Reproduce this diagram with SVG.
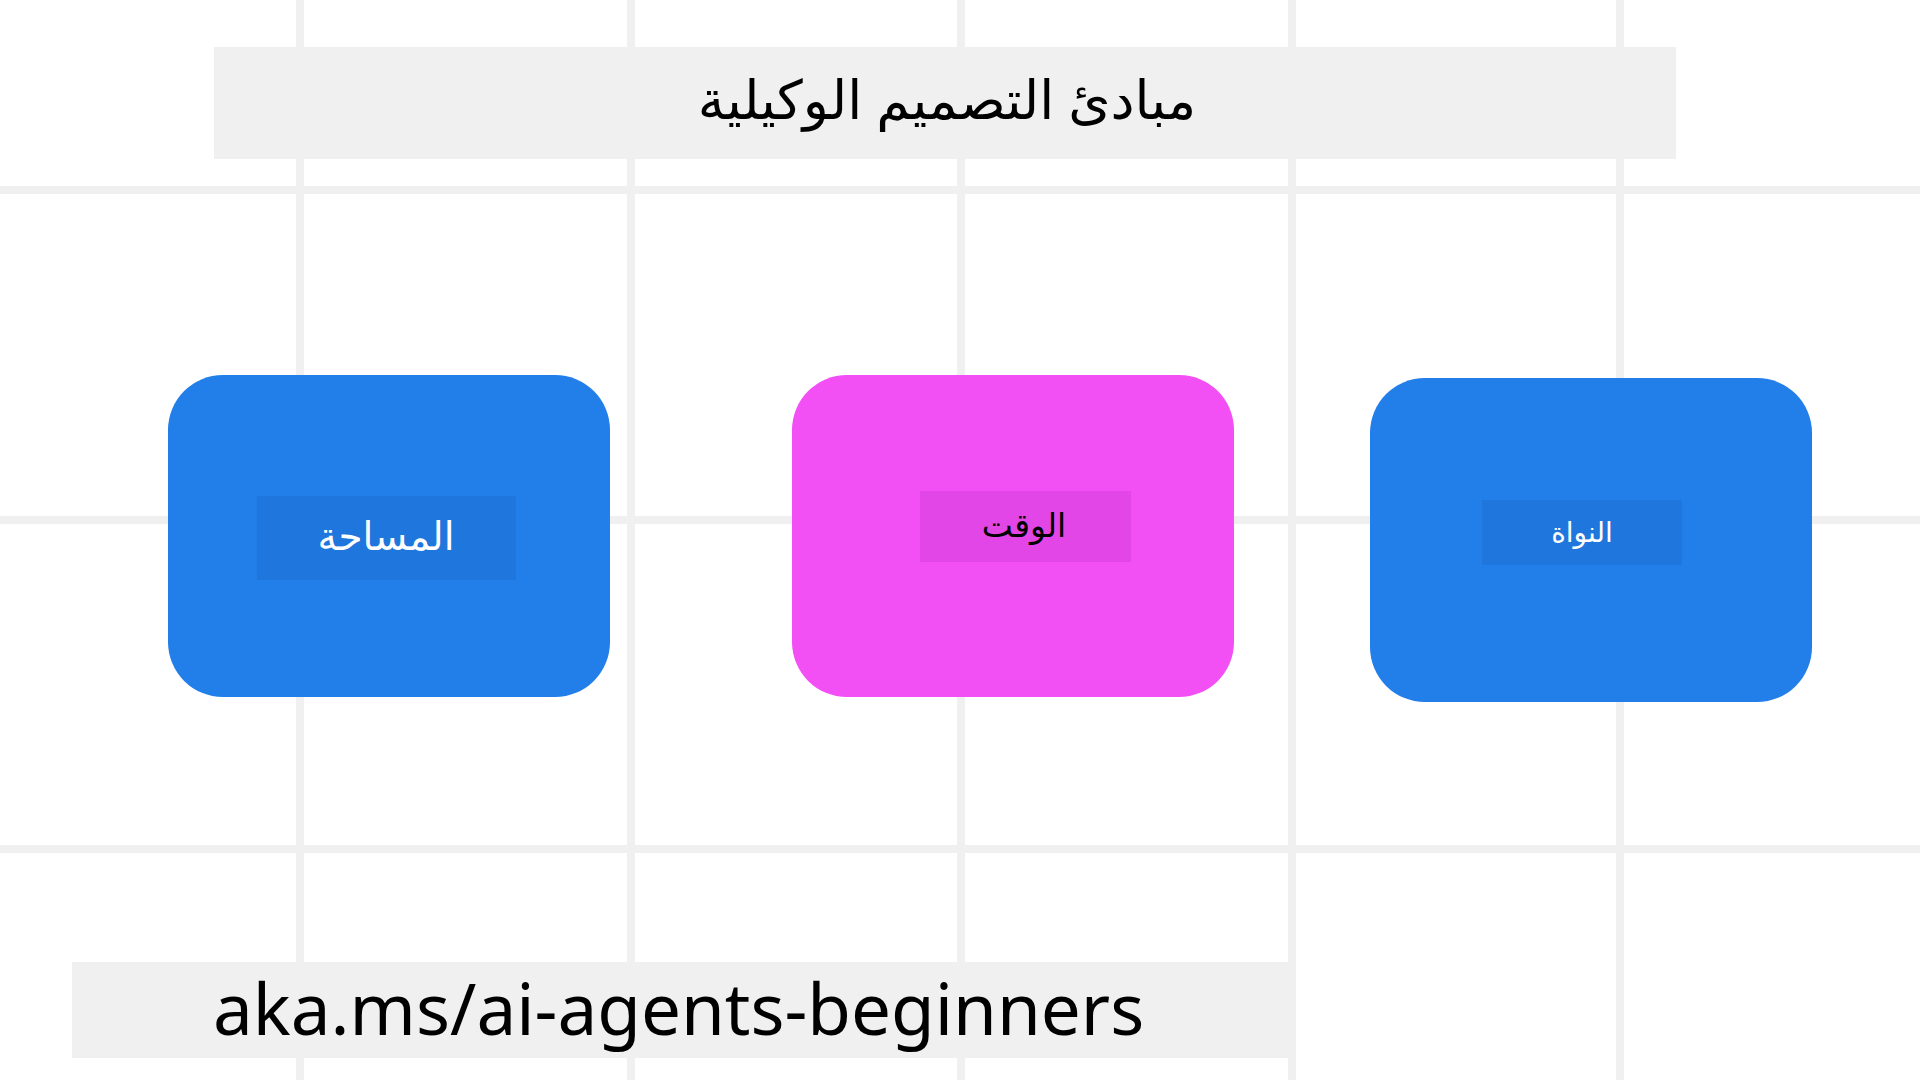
<svg xmlns="http://www.w3.org/2000/svg" width="1920" height="1080" viewBox="0 0 1920 1080">
<style>
.grid line{stroke:#f0f0f0;stroke-width:8}
.band{fill:#f0f0f0}
.blue{fill:#227ee8}
.pink{fill:#f250f5}
.lblBlue{fill:#1f76dd}
.lblPink{fill:#e246e7}
.ar{font-family:"Noto Sans","DejaVu Sans",sans-serif;text-anchor:middle}
</style>
<rect width="1920" height="1080" fill="#ffffff"/>
<g class="grid">
<line x1="300" y1="0" x2="300" y2="1080"/>
<line x1="631" y1="0" x2="631" y2="1080"/>
<line x1="961" y1="0" x2="961" y2="1080"/>
<line x1="1292" y1="0" x2="1292" y2="1080"/>
<line x1="1620" y1="0" x2="1620" y2="1080"/>
<line x1="0" y1="190" x2="1920" y2="190"/>
<line x1="0" y1="520" x2="1920" y2="520"/>
<line x1="0" y1="849" x2="1920" y2="849"/>
</g>
<g id="title">
<rect class="band" x="214" y="47" width="1462" height="112"/>
<text class="ar" x="947" y="119" font-size="54" fill="#000000">مبادئ التصميم الوكيلية</text>
</g>
<g id="connectors"></g>
<g id="node-space">
<rect class="blue" x="168" y="375" width="442" height="322" rx="55" ry="55"/>
<rect class="lblBlue" x="257" y="496" width="259" height="84"/>
<text class="ar" x="386" y="550" font-size="39" fill="#ffffff">المساحة</text>
</g>
<g id="node-time">
<rect class="pink" x="792" y="375" width="442" height="322" rx="55" ry="55"/>
<rect class="lblPink" x="920" y="491" width="211" height="71"/>
<text class="ar" x="1024" y="537" font-size="33" fill="#000000">الوقت</text>
</g>
<g id="node-core">
<rect class="blue" x="1370" y="378" width="442" height="324" rx="55" ry="55"/>
<rect class="lblBlue" x="1482" y="500" width="200" height="65"/>
<text class="ar" x="1582" y="542" font-size="28" fill="#ffffff">النواة</text>
</g>
<g id="footer">
<rect class="band" x="72" y="962" width="1216" height="96"/>
<text x="213" y="1035" font-family="'Noto Sans','Open Sans',sans-serif" font-size="71" fill="#000000">aka.ms/ai-agents-beginners</text>
</g>
</svg>
